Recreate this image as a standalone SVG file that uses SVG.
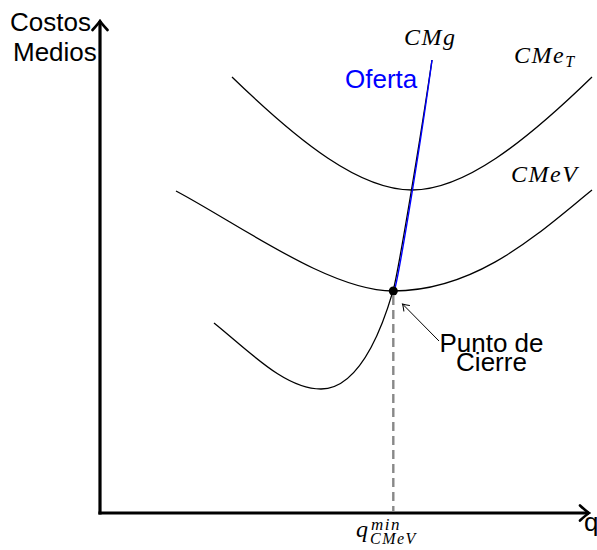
<svg xmlns="http://www.w3.org/2000/svg" width="597" height="550" viewBox="0 0 597 550">
  <style>
    .axis { stroke: #000; stroke-width: 3.2; fill: none; }
    .curve { stroke: #000; stroke-width: 1.3; fill: none; }
    .supply { stroke: #0000ff; stroke-width: 1.4; fill: none; }
    .dash { stroke: #888; stroke-width: 2.4; stroke-dasharray: 9 5; fill: none; }
    .sans { font-family: "Liberation Sans", Arial, sans-serif; font-size: 26px; fill: #000; }
    .math { font-family: "Liberation Serif", "Times New Roman", serif; font-style: italic; font-size: 24px; fill: #000; letter-spacing: 1.5px; }
  </style>
  <defs>
    <marker id="tipBig" markerUnits="userSpaceOnUse" viewBox="-12 -10 14 20" refX="0" refY="0" markerWidth="14" markerHeight="20" orient="auto">
      <path d="M-9,-7.5 Q-3,-2 0,0 Q-3,2 -9,7.5" fill="none" stroke="#000" stroke-width="2.6" stroke-linecap="round"/>
    </marker>
    <marker id="tipSmall" markerUnits="userSpaceOnUse" viewBox="-8 -6 10 12" refX="0" refY="0" markerWidth="10" markerHeight="12" orient="auto">
      <path d="M-6,-4 Q-2,-1 0,0 Q-2,1 -6,4" fill="none" stroke="#000" stroke-width="1" stroke-linecap="round"/>
    </marker>
  </defs>
  <rect width="597" height="550" fill="#fff"/>

  <g id="axes">
    <line class="axis" x1="100" y1="514.6" x2="100" y2="21" marker-end="url(#tipBig)"/>
    <line class="axis" x1="98.4" y1="513" x2="589" y2="513" marker-end="url(#tipBig)"/>
  </g>

  <g id="curves">
    <path id="cmet" class="curve" d="M232,77 C300,143 360,190 412,190 C464,190 524,143 592,77"/>
    <path id="cmev" class="curve" d="M176,191 C240,225 330,291 393,291 C478,291 540,232 592,190"/>
    <path id="cmg" class="curve" d="M214,323 C250,352 285,389 321,389 C365,389 388,308 393,291 C398,274 421,135 432,60"/>
    <path id="oferta" class="supply" d="M394.3,291 C399.5,273 422,135 432,60"/>
  </g>

  <g id="connectors">
    <line class="dash" x1="393.3" y1="296" x2="393.3" y2="511"/>
    <line x1="439" y1="341" x2="402.5" y2="304" stroke="#000" stroke-width="1" marker-end="url(#tipSmall)"/>
  </g>

  <g id="punto-cierre">
    <circle cx="393.3" cy="291" r="4.5" fill="#000"/>
    <text class="sans" x="491.5" y="352" text-anchor="middle">Punto de</text>
    <text class="sans" x="491.5" y="371" text-anchor="middle">Cierre</text>
  </g>

  <g id="labels">
    <text class="sans" x="10" y="31">Costos</text>
    <text class="sans" x="13" y="61">Medios</text>
    <text class="sans" x="584" y="531">q</text>
    <text class="sans" x="345" y="88" style="fill:#0000ff">Oferta</text>
    <text class="math" x="404" y="45">CMg</text>
    <text class="math" x="514" y="63">CMe<tspan font-size="16" dy="4">T</tspan></text>
    <text class="math" x="511" y="182">CMeV</text>
    <text class="math" x="356" y="537">q<tspan font-size="17" x="371" y="530">min</tspan><tspan font-size="16" x="370" y="544">CMeV</tspan></text>
  </g>
</svg>
